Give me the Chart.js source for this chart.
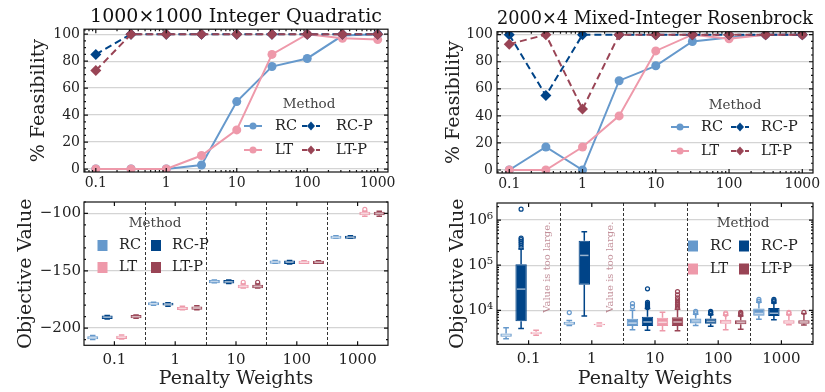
<!DOCTYPE html>
<html>
<head>
<meta charset="utf-8">
<script src="https://cdn.jsdelivr.net/npm/chart.js@4.4.1/dist/chart.umd.min.js"></script>
<style>
html, body { margin: 0; padding: 0; background: #fff; }
body { width: 825px; height: 392px; position: relative; overflow: hidden; }
.panel { position: absolute; }
</style>
</head>
<body>
<div class="panel" style="left:0;top:0;width:410px;height:195px"><canvas id="quad-feas"></canvas></div>
<div class="panel" style="left:410px;top:0;width:415px;height:195px"><canvas id="ros-feas"></canvas></div>
<div class="panel" style="left:0;top:190px;width:410px;height:202px"><canvas id="quad-obj"></canvas></div>
<div class="panel" style="left:410px;top:190px;width:415px;height:202px"><canvas id="ros-obj"></canvas></div>
<script>
(function () {
    'use strict';

    // penalty weights of the feasibility runs (half-decade steps)
    var penalty = [0.1, 0.316, 1, 3.16, 10, 31.6, 100, 316, 1000];
    var weightLabels = ['0.1', '1', '10', '100', '1000'];
    var logXTicks = [0.1, 1, 10, 100, 1000];
    var feasTicks = [0, 20, 40, 60, 80, 100];
    var quadObjTicks = [-200, -150, -100];
    var rosObjTicks = [1e4, 1e5, 1e6];

    // % feasibility, integer quadratic
    var quadRC = [0, 0, 0, 3, 50, 76, 82, 99, 100];
    var quadLT = [0, 0, 0, 10, 29, 85, 100, 97, 96];
    var quadRCP = [85, 100, 100, 100, 100, 100, 100, 100, 100];
    var quadLTP = [73, 100, 100, 100, 100, 100, 100, 100, 100];

    // % feasibility, mixed-integer rosenbrock
    var rosRC = [0, 17, 0, 66, 77, 95, 98, 100, 100];
    var rosLT = [0, 0, 17, 40, 88, 100, 97, 100, 100];
    var rosRCP = [100, 55, 100, 100, 100, 100, 100, 100, 100];
    var rosLTP = [93, 100, 45, 100, 100, 100, 100, 100, 100];

    // objective boxes [min, q1, median, q3, max] per weight
    var quadBoxRC = [[-210, -209.8, -208.5, -207, -206.5], [-180, -180, -178.8, -177.5, -177.5], [-160.5, -160.8, -159.3, -158, -158], [-143.5, -143.8, -142.4, -141, -141], [-121.5, -122, -120.7, -119.5, -119.5]];
    var quadBoxRCP = [[-192, -192, -190.6, -189, -189], [-181, -180.2, -179, -177.8, -177.8], [-161, -161, -159.5, -158, -158], [-144, -144, -142.5, -141, -141], [-121.5, -122, -120.7, -119.5, -119.5]];
    var quadBoxLT = [[-209.5, -209.5, -208, -206.7, -206], [-184, -184.3, -182.8, -181.5, -181], [-165, -165.2, -163.7, -162.2, -161.5], [-143.5, -144, -142.6, -141.3, -141.3], [-102.5, -101.5, -100, -98.6, -98]];
    var quadBoxLTP = [[-191.5, -191.5, -190, -188.6, -188.5], [-184, -184, -182.5, -181.2, -180.5], [-165, -165.2, -163.7, -162.2, -161.5], [-143.5, -144, -142.6, -141.3, -141.3], [-102.5, -101.5, -100, -98.6, -98]];
    var quadOutRC = [[], [], [], [], []];
    var quadOutRCP = [[], [], [], [], []];
    var quadOutLT = [[], [], [-160], [], [-96.5]];
    var quadOutLTP = [[], [], [-160], [], []];

    var rosBoxRC = [[2350, 2600, 2800, 3050, 4100], [4600, 4750, 5150, 5600, 5900], [3700, 4500, 5200, 6500, 10000], [4600, 5100, 5800, 6600, 8200], [6300, 7600, 8500, 11000, 15000]];
    var rosBoxRCP = [[3950, 5700, 29500, 105000, 230000], [7500, 37000, 165000, 350000, 550000], [3600, 4500, 5500, 7200, 11000], [4400, 5000, 5700, 6600, 8000], [6200, 7500, 8600, 11200, 14500]];
    var rosBoxLT = [[2800, 2950, 3150, 3350, 3600], [4500, 4650, 4850, 5050, 5200], [3500, 4500, 5400, 6800, 9000], [3700, 5000, 5500, 6200, 7800], [4800, 5000, 5500, 6000, 8000]];
    var rosBoxLTP = [null, null, [3500, 4500, 5500, 7000, 10500], [3800, 4900, 5400, 6000, 7500], [4700, 5000, 5500, 6000, 8500]];
    var rosOutRC = [[], [8900], [12000, 14000], [8800, 9500], [16000, 17500]];
    var rosOutRCP = [[250000, 280000, 310000, 340000, 370000, 400000, 1750000], [], [11500, 12000, 12500, 13000, 13500, 14000, 15000, 30000], [8500, 9000, 9500], [15500, 16500, 17500]];
    var rosOutLT = [[], [], [], [8200, 8700], [8500, 9000]];
    var rosOutLTP = [[], [], [11500, 12500, 13500, 15000, 17000, 19000, 22000, 26000], [8000, 8500, 9000], [9000]];

    var cRC = '#6699CC', cRCP = '#004488', cLT = '#EE99AA', cLTP = '#994455';
    var serif = '"DejaVu Serif", "Liberation Serif", serif';
    var ink = '#222';

    Chart.defaults.font.family = serif;
    Chart.defaults.color = ink;
    Chart.defaults.animation = false;

    function fixedTicks(vals) {
        return function (s) { s.ticks = vals.map(function (v) { return { value: v }; }); };
    }
    function logMinor(lo, hi) {
        var out = [];
        for (var k = -3; k <= 7; k++) {
            for (var m = 2; m <= 9; m++) {
                var v = m * Math.pow(10, k);
                if (v > lo && v < hi) out.push(v);
            }
        }
        return out;
    }
    function linMinor(lo, hi, step, major) {
        var out = [];
        for (var v = Math.ceil(lo / step) * step; v <= hi; v += step) {
            if (v % major !== 0) out.push(v);
        }
        return out;
    }
    function pts(arr) {
        return arr.map(function (v, i) { return { x: penalty[i], y: v }; });
    }

    // box frame with inward ticks on all four sides
    var framePlugin = {
        id: 'frame',
        afterDraw: function (chart, args, o) {
            var ctx = chart.ctx, a = chart.chartArea, sx = chart.scales.x, sy = chart.scales.y;
            ctx.save();
            ctx.strokeStyle = '#111';
            ctx.lineWidth = 1.2;
            ctx.strokeRect(a.left, a.top, a.right - a.left, a.bottom - a.top);
            ctx.beginPath();
            function xt(vals, len) {
                vals.forEach(function (v) {
                    var p = sx.getPixelForValue(v);
                    if (p < a.left || p > a.right) return;
                    ctx.moveTo(p, a.bottom); ctx.lineTo(p, a.bottom - len);
                    ctx.moveTo(p, a.top); ctx.lineTo(p, a.top + len);
                });
            }
            function yt(vals, len) {
                vals.forEach(function (v) {
                    var p = sy.getPixelForValue(v);
                    if (p < a.top || p > a.bottom) return;
                    ctx.moveTo(a.left, p); ctx.lineTo(a.left + len, p);
                    ctx.moveTo(a.right, p); ctx.lineTo(a.right - len, p);
                });
            }
            xt(o.xMajor || [], 4); xt(o.xMinor || [], 2);
            yt(o.yMajor || [], 4); yt(o.yMinor || [], 2);
            ctx.stroke();
            ctx.restore();
        }
    };

    // "Method" legend drawn inside the plot, two columns
    var legendPlugin = {
        id: 'methodLegend',
        afterDraw: function (chart, args, o) {
            var ctx = chart.ctx;
            ctx.save();
            ctx.textBaseline = 'middle';
            ctx.fillStyle = '#444';
            ctx.font = '13.5px ' + serif;
            ctx.textAlign = 'center';
            ctx.fillText('Method', o.titleX, o.titleY);
            ctx.textAlign = 'left';
            o.items.forEach(function (it) {
                var x = o.cols[it.col], y = o.rows[it.row];
                ctx.fillStyle = it.color;
                ctx.strokeStyle = it.color;
                if (it.marker === 'square') {
                    ctx.fillRect(x - 5, y - 5.5, 10, 11);
                } else {
                    ctx.lineWidth = 2;
                    ctx.setLineDash(it.dashed ? [5, 2] : []);
                    ctx.beginPath(); ctx.moveTo(x - 9, y); ctx.lineTo(x + 9, y); ctx.stroke();
                    ctx.setLineDash([]);
                    ctx.beginPath();
                    if (it.marker === 'circle') {
                        ctx.arc(x, y, 3.5, 0, Math.PI * 2);
                    } else {
                        ctx.moveTo(x, y - 4.5); ctx.lineTo(x + 4, y); ctx.lineTo(x, y + 4.5); ctx.lineTo(x - 4, y);
                        ctx.closePath();
                    }
                    ctx.fill();
                }
                ctx.fillStyle = ink;
                ctx.font = '14.5px ' + serif;
                ctx.fillText(it.label, o.textX[it.col], y);
            });
            ctx.restore();
        }
    };

    // whiskers, medians, fliers and group separators for the box plots
    var boxPlugin = {
        id: 'boxes',
        beforeDatasetsDraw: function (chart) {
            var ctx = chart.ctx, a = chart.chartArea, sx = chart.scales.x;
            ctx.save();
            ctx.strokeStyle = '#333';
            ctx.lineWidth = 1;
            ctx.setLineDash([3, 2]);
            ctx.beginPath();
            for (var i = 0; i < sx.ticks.length - 1; i++) {
                var px = Math.round((sx.getPixelForValue(i) + sx.getPixelForValue(i + 1)) / 2) + 0.5;
                ctx.moveTo(px, a.top); ctx.lineTo(px, a.bottom);
            }
            ctx.stroke();
            ctx.restore();
        },
        afterDatasetsDraw: function (chart, args, o) {
            var ctx = chart.ctx, sy = chart.scales.y;
            function py(v) { return sy.getPixelForValue(v); }
            ctx.save();
            o.stats.forEach(function (stats, d) {
                var meta = chart.getDatasetMeta(d), c = o.colors[d];
                stats.forEach(function (s, i) {
                    var bar = meta.data[i];
                    if (!s || !bar) return;
                    var cx = bar.x, hw = bar.width / 2;
                    ctx.strokeStyle = c;
                    ctx.lineWidth = 1.5;
                    ctx.beginPath();
                    ctx.moveTo(cx, py(s[0])); ctx.lineTo(cx, py(s[1]));
                    ctx.moveTo(cx, py(s[3])); ctx.lineTo(cx, py(s[4]));
                    ctx.moveTo(cx - hw / 2, py(s[0])); ctx.lineTo(cx + hw / 2, py(s[0]));
                    ctx.moveTo(cx - hw / 2, py(s[4])); ctx.lineTo(cx + hw / 2, py(s[4]));
                    ctx.stroke();
                    ctx.strokeStyle = 'rgba(255,255,255,0.6)';
                    ctx.beginPath();
                    ctx.moveTo(cx - hw + 1.5, py(s[2])); ctx.lineTo(cx + hw - 1.5, py(s[2]));
                    ctx.stroke();
                    ctx.strokeStyle = c;
                    ctx.lineWidth = 1.2;
                    (o.outliers[d][i] || []).forEach(function (v) {
                        ctx.beginPath();
                        ctx.arc(cx, py(v), 2, 0, Math.PI * 2);
                        ctx.stroke();
                    });
                });
            });
            (o.notes || []).forEach(function (n) {
                var el = chart.getDatasetMeta(n.dataset).data[n.index];
                ctx.save();
                ctx.translate(el.x + n.dx, py(n.value));
                ctx.rotate(-Math.PI / 2);
                ctx.font = '10px ' + serif;
                ctx.fillStyle = 'rgba(153,68,85,0.6)';
                ctx.textAlign = 'center';
                ctx.textBaseline = 'middle';
                ctx.fillText(n.text, 0, 0);
                ctx.restore();
            });
            ctx.restore();
        }
    };

    var lineItems = [
        { label: 'RC', color: cRC, marker: 'circle', col: 0, row: 0 },
        { label: 'RC-P', color: cRCP, marker: 'diamond', dashed: true, col: 1, row: 0 },
        { label: 'LT', color: cLT, marker: 'circle', col: 0, row: 1 },
        { label: 'LT-P', color: cLTP, marker: 'diamond', dashed: true, col: 1, row: 1 }
    ];
    var boxItems = lineItems.map(function (it) {
        return { label: it.label, color: it.color, marker: 'square', col: it.col, row: it.row };
    });

    function feasChart(id, rc, lt, rcp, ltp, title, area, legend) {
        var xMin = 0.068, xMax = 1400;
        return new Chart(document.getElementById(id), {
            type: 'line',
            data: {
                datasets: [
                    { label: 'RC', data: pts(rc), borderColor: cRC, backgroundColor: cRC, borderWidth: 2, pointStyle: 'circle', pointRadius: 4.5, pointBorderWidth: 0, order: 4 },
                    { label: 'LT', data: pts(lt), borderColor: cLT, backgroundColor: cLT, borderWidth: 2, pointStyle: 'circle', pointRadius: 4.5, pointBorderWidth: 0, order: 3 },
                    { label: 'RC-P', data: pts(rcp), borderColor: cRCP, backgroundColor: cRCP, borderWidth: 2, borderDash: [7, 4], pointStyle: 'rectRot', pointRadius: 5.5, pointBorderWidth: 0, order: 2 },
                    { label: 'LT-P', data: pts(ltp), borderColor: cLTP, backgroundColor: cLTP, borderWidth: 2, borderDash: [7, 4], pointStyle: 'rectRot', pointRadius: 5.5, pointBorderWidth: 0, order: 1 }
                ]
            },
            options: {
                responsive: true,
                maintainAspectRatio: false,
                devicePixelRatio: 1,
                events: [],
                layout: { padding: { left: 0, right: area.right, top: area.top, bottom: 0 } },
                plugins: {
                    legend: { display: false },
                    tooltip: { enabled: false },
                    title: { display: true, text: title, fullSize: false, color: '#111', font: { size: area.ts, weight: 'normal' }, padding: { top: 29.2 - area.ts * 1.2 - 1.2, bottom: 1.2 } },
                    frame: { xMajor: logXTicks, xMinor: logMinor(xMin, xMax), yMajor: feasTicks, yMinor: linMinor(-2, 103, 5, 20) },
                    methodLegend: legend
                },
                scales: {
                    x: {
                        type: 'logarithmic', min: xMin, max: xMax,
                        afterBuildTicks: fixedTicks(logXTicks),
                        ticks: { callback: function (v) { return String(v); }, font: { size: 14 }, padding: 3, maxRotation: 0, autoSkip: false },
                        grid: { display: false, drawTicks: false },
                        border: { display: false },
                        afterFit: function (s) { s.height = area.xh; }
                    },
                    y: {
                        min: area.yMin, max: area.yMax,
                        afterBuildTicks: fixedTicks(feasTicks),
                        ticks: { font: { size: 14 }, padding: 4 },
                        grid: { color: '#d4d4d4', lineWidth: 1.3, drawTicks: false },
                        border: { display: false },
                        title: { display: true, text: '% Feasibility', font: { size: 19 }, padding: { top: area.yt, bottom: 0 } },
                        afterFit: function (s) { s.width = area.left; }
                    }
                }
            },
            plugins: [framePlugin, legendPlugin]
        });
    }

    function boxSet(label, stats, color) {
        return {
            label: label,
            data: stats.map(function (s) { return s ? [s[1], s[3]] : null; }),
            backgroundColor: color,
            borderColor: color,
            borderWidth: 1,
            borderSkipped: false,
            categoryPercentage: 0.95,
            barPercentage: 0.76
        };
    }

    function objChart(id, boxes, outs, yOpts, frameY, area, legend, notes) {
        return new Chart(document.getElementById(id), {
            type: 'bar',
            data: {
                labels: weightLabels,
                datasets: [
                    boxSet('RC', boxes[0], cRC),
                    boxSet('RC-P', boxes[1], cRCP),
                    boxSet('LT', boxes[2], cLT),
                    boxSet('LT-P', boxes[3], cLTP)
                ]
            },
            options: {
                responsive: true,
                maintainAspectRatio: false,
                devicePixelRatio: 1,
                events: [],
                layout: { padding: { left: 0, right: area.right, top: area.top, bottom: 0 } },
                plugins: {
                    legend: { display: false },
                    tooltip: { enabled: false },
                    frame: { xMajor: [0, 1, 2, 3, 4], yMajor: frameY.major, yMinor: frameY.minor },
                    methodLegend: legend,
                    boxes: { stats: boxes, outliers: outs, colors: [cRC, cRCP, cLT, cLTP], notes: notes }
                },
                scales: {
                    x: {
                        ticks: { font: { size: 15 }, padding: 6, maxRotation: 0 },
                        grid: { display: false, drawTicks: false },
                        border: { display: false },
                        title: { display: true, text: 'Penalty Weights', font: { size: 19 }, padding: { top: 0, bottom: 2 } },
                        afterFit: function (s) { s.height = area.xh; }
                    },
                    y: Object.assign({
                        grid: { color: '#d4d4d4', lineWidth: 1.3, drawTicks: false },
                        border: { display: false },
                        title: { display: true, text: 'Objective Value', font: { size: 19 }, padding: { top: area.yt, bottom: 0 } },
                        afterFit: function (s) { s.width = area.left; }
                    }, yOpts)
                }
            },
            plugins: [framePlugin, legendPlugin, boxPlugin]
        });
    }

    feasChart('quad-feas', quadRC, quadLT, quadRCP, quadLTP, '1000\u00d71000 Integer Quadratic',
        { left: 84, right: 22, top: 0, xh: 23, yMin: -2.2, yMax: 103.7, yt: 28, ts: 19 },
        { titleX: 309, titleY: 104, cols: [253, 311], textX: [275, 336], rows: [126, 150], items: lineItems });

    feasChart('ros-feas', rosRC, rosLT, rosRCP, rosLTP, '2000\u00d74 Mixed-Integer Rosenbrock',
        { left: 87, right: 12, top: 2.5, xh: 22, yMin: -2.2, yMax: 102.2, yt: 33, ts: 18 },
        { titleX: 325, titleY: 105, cols: [270, 330], textX: [291, 351], rows: [127, 151], items: lineItems });

    objChart('quad-obj', [quadBoxRC, quadBoxRCP, quadBoxLT, quadBoxLTP], [quadOutRC, quadOutRCP, quadOutLT, quadOutLTP],
        {
            min: -215, max: -90,
            afterBuildTicks: fixedTicks(quadObjTicks),
            ticks: { font: { size: 15 }, padding: 3, callback: function (v) { return String(v).replace('-', '\u2212'); } }
        },
        { major: quadObjTicks, minor: linMinor(-215, -90, 10, 50) },
        { left: 84, right: 22, top: 11.7, xh: 46.7, yt: 15 },
        { titleX: 155, titleY: 33, cols: [102.5, 156], textX: [119, 172], rows: [55.5, 77.5], items: boxItems },
        []);

    objChart('ros-obj', [rosBoxRC, rosBoxRCP, rosBoxLT, rosBoxLTP], [rosOutRC, rosOutRCP, rosOutLT, rosOutLTP],
        {
            type: 'logarithmic', min: 1760, max: 2.4e6,
            afterBuildTicks: fixedTicks(rosObjTicks),
            ticks: {
                font: { size: 15 }, padding: 4,
                callback: function (v) { return '10' + ['\u2070', '\u00b9', '\u00b2', '\u00b3', '\u2074', '\u2075', '\u2076'][Math.round(Math.log10(v))]; }
            }
        },
        { major: rosObjTicks, minor: logMinor(1760, 2.4e6) },
        { left: 87, right: 12, top: 11.7, xh: 47.7, yt: 37 },
        { titleX: 333, titleY: 33, cols: [283, 334], textX: [300, 351], rows: [56, 79], items: boxItems },
        [
            { dataset: 3, index: 0, value: 90000, dx: -4, text: 'Value is too large.' },
            { dataset: 3, index: 1, value: 90000, dx: -4, text: 'Value is too large.' }
        ]);
})();
</script>
</body>
</html>
